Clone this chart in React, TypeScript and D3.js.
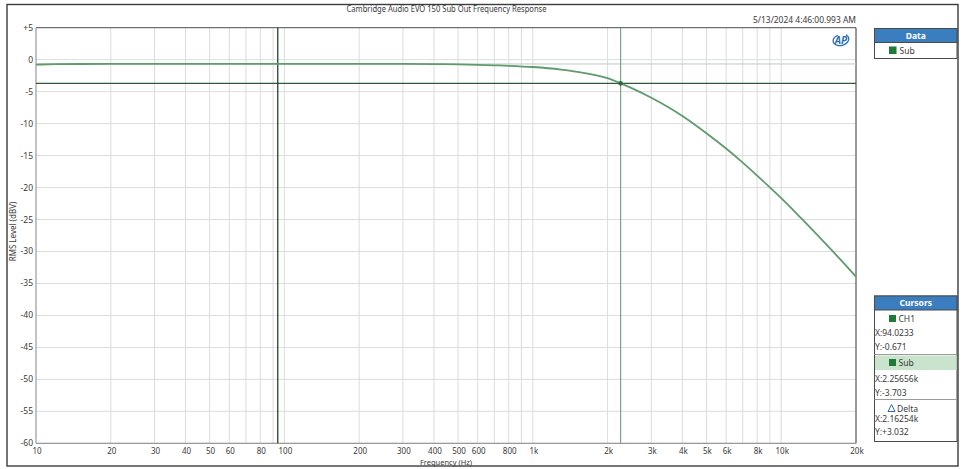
import React from "react";
import * as d3 from "d3";

// ---- data ----
const freqHz = [10, 12, 15, 20, 50, 100, 200, 300, 400, 500, 600, 700, 800, 1000, 1300, 1600, 2000, 2256.56, 2500, 3000, 3500, 4000, 5000, 6000, 7000, 8000, 9000, 10000, 12000, 14000, 16000, 18000, 20000];
const subDb = [-0.78, -0.71, -0.68, -0.67, -0.67, -0.671, -0.665, -0.665, -0.69, -0.74, -0.8, -0.88, -0.96, -1.15, -1.55, -2.05, -2.9, -3.703, -4.45, -5.95, -7.4, -8.8, -11.5, -13.9, -16.11, -18.14, -19.98, -21.67, -24.76, -27.44, -29.82, -31.97, -33.94];

const xTickValues = [10, 20, 30, 40, 50, 60, 80, 100, 200, 300, 400, 500, 600, 800, 1000, 2000, 3000, 4000, 5000, 6000, 8000, 10000, 20000];
const xTickLabels = ["10", "20", "30", "40", "50", "60", "80", "100", "200", "300", "400", "500", "600", "800", "1k", "2k", "3k", "4k", "5k", "6k", "8k", "10k", "20k"];
const xGridValues = [20, 30, 40, 50, 60, 70, 80, 90, 100, 200, 300, 400, 500, 600, 700, 800, 900, 1000, 2000, 3000, 4000, 5000, 6000, 7000, 8000, 9000, 10000];
const yTickValues = [5, 0, -5, -10, -15, -20, -25, -30, -35, -40, -45, -50, -55, -60];
const yTickLabels = ["+5", "0", "-5", "-10", "-15", "-20", "-25", "-30", "-35", "-40", "-45", "-50", "-55", "-60"];

const cursor1 = { x: 94.0233, y: -0.671 };
const cursor2 = { x: 2256.56, y: -3.703 };
const cursorTexts = {
  ch1: ["X:94.0233", "Y:-0.671"],
  sub: ["X:2.25656k", "Y:-3.703"],
  delta: ["X:2.16254k", "Y:+3.032"],
};

const title = "Cambridge Audio EVO 150 Sub Out Frequency Response";
const timestamp = "5/13/2024 4:46:00.993 AM";

export default function App() {
  const W = 964, H = 469;
  const L = 36, R = 856, T = 27.7, B = 443.3;
  const x = d3.scaleLog().domain([10, 20000]).range([L, R]);
  const y = d3.scaleLinear().domain([5, -60]).range([T, B]);
  const line = d3
    .line<number>()
    .x((_, i) => x(freqHz[i]))
    .y((d) => y(d))
    .curve(d3.curveMonotoneX);
  const font = "'Noto Sans', 'DejaVu Sans', sans-serif";
  const txt = "#3a3a3a";
  const blue = "#3b7ec0";
  const px = 874.5, pw = 82.5;

  return (
    <svg width={W} height={H} style={{ position: "absolute", left: 0, top: 0, background: "#fff" }} fontFamily={font}>
      <rect x={0} y={0} width={W} height={H} fill="#fff" />
      <rect x={7} y={4.5} width={951} height={461.5} fill="none" stroke="#3c3c3c" strokeWidth={1.4} />

      <text x={446.5} y={11.5} fontSize={9} fill={txt} textAnchor="middle" textLength={200} lengthAdjust="spacingAndGlyphs">{title}</text>
      <text x={856} y={22.5} fontSize={9} fill={txt} textAnchor="end" textLength={103} lengthAdjust="spacingAndGlyphs">{timestamp}</text>

      {/* grid */}
      {xGridValues.map((v) => (
        <line key={"gx" + v} x1={x(v)} x2={x(v)} y1={T} y2={B} stroke="#dcdcdc" strokeWidth={1} />
      ))}
      {yTickValues.map((v) => (
        <line key={"gy" + v} x1={L} x2={R} y1={y(v)} y2={y(v)} stroke="#dcdcdc" strokeWidth={1} />
      ))}

      {/* plot frame */}
      <line x1={L} x2={R} y1={T} y2={T} stroke="#555" strokeWidth={1} />
      <line x1={R} x2={R} y1={T} y2={B} stroke="#555" strokeWidth={1.2} />
      <line x1={L} x2={L} y1={T} y2={B} stroke="#9a9a9a" strokeWidth={1.2} />
      <line x1={L} x2={R} y1={B} y2={B} stroke="#9a9a9a" strokeWidth={1.2} />

      {/* cursors */}
      <line x1={L} x2={R} y1={y(cursor1.y)} y2={y(cursor1.y)} stroke="#b8cdbc" strokeWidth={1} />
      <line x1={L} x2={R} y1={y(cursor2.y)} y2={y(cursor2.y)} stroke="#2f5a3a" strokeWidth={1.1} />
      <line x1={x(cursor1.x)} x2={x(cursor1.x)} y1={T} y2={B} stroke="#1f4529" strokeWidth={1.3} />
      <line x1={x(cursor2.x)} x2={x(cursor2.x)} y1={T} y2={B} stroke="#6a9f79" strokeWidth={1.1} />

      {/* data */}
      <path d={line(subDb) || ""} fill="none" stroke="#5e9b6d" strokeWidth={1.8} />
      <circle cx={x(cursor2.x)} cy={y(cursor2.y)} r={2.4} fill="#2e6b3f" />

      {/* AP logo */}
      <g transform="translate(841,40)">
        <ellipse cx={0} cy={0} rx={8} ry={5.5} fill="none" stroke="#2b6cb3" strokeWidth={1.3} transform="rotate(-15)" strokeDasharray="30 8" />
        <text x={0} y={3.5} fontSize={10} fontWeight="bold" fontStyle="italic" fill="#2b6cb3" textAnchor="middle">AP</text>
      </g>

      {/* y ticks */}
      {yTickValues.map((v, i) => (
        <text key={"yl" + v} x={33} y={y(v) + 3} fontSize={8.5} fill={txt} textAnchor="end">{yTickLabels[i]}</text>
      ))}
      {/* x ticks */}
      {xTickValues.map((v, i) => (
        <text key={"xl" + v} x={x(v) + 1} y={454} fontSize={8} fill={txt} textAnchor="middle">{xTickLabels[i]}</text>
      ))}
      <text x={446} y={464.5} fontSize={7.5} fill={txt} textAnchor="middle">Frequency (Hz)</text>
      <text transform={`translate(16,${(T + B) / 2 - 4}) rotate(-90)`} fontSize={8} fill={txt} textAnchor="middle">RMS Level (dBV)</text>

      {/* Data panel */}
      <rect x={px} y={28.5} width={pw} height={30} fill="#fff" stroke="#4a4a4a" strokeWidth={1} />
      <rect x={px} y={28.5} width={pw} height={14} fill={blue} stroke="#4a4a4a" strokeWidth={1} />
      <text x={px + pw / 2} y={38.5} fontSize={8.5} fontWeight="bold" fill="#fff" textAnchor="middle">Data</text>
      <rect x={889} y={46.5} width={7.5} height={7.5} fill="#1f7a37" />
      <text x={899.5} y={54} fontSize={8.5} fill={txt}>Sub</text>

      {/* Cursors panel */}
      <rect x={px} y={296} width={pw} height={145.5} fill="#fff" stroke="#4a4a4a" strokeWidth={1} />
      <rect x={px + 0.5} y={355.5} width={pw - 1} height={14.5} fill="#c9e3cc" />
      <rect x={px} y={296} width={pw} height={14} fill={blue} stroke="#4a4a4a" strokeWidth={1} />
      <text x={px + pw / 2} y={306} fontSize={8.5} fontWeight="bold" fill="#fff" textAnchor="middle">Cursors</text>
      <line x1={px} x2={px + pw} y1={354.5} y2={354.5} stroke="#9a9a9a" strokeWidth={1} />
      <line x1={px} x2={px + pw} y1={399.5} y2={399.5} stroke="#9a9a9a" strokeWidth={1} />

      <rect x={889} y={315} width={7} height={7} fill="#1f7a37" />
      <text x={898.5} y={322} fontSize={8.5} fill={txt}>CH1</text>
      <text x={875} y={336} fontSize={8.5} fill={txt}>{cursorTexts.ch1[0]}</text>
      <text x={875} y={350} fontSize={8.5} fill={txt}>{cursorTexts.ch1[1]}</text>

      <rect x={889} y={359} width={7} height={7} fill="#1f7a37" />
      <text x={898.5} y={366} fontSize={8.5} fill={txt}>Sub</text>
      <text x={875} y={382} fontSize={8.5} fill={txt}>{cursorTexts.sub[0]}</text>
      <text x={875} y={396} fontSize={8.5} fill={txt}>{cursorTexts.sub[1]}</text>

      <path d="M891.5,404.5 L888,411.5 L895,411.5 Z" fill="none" stroke="#2b6cb3" strokeWidth={1} />
      <text x={897} y={412} fontSize={8.5} fill={txt}>Delta</text>
      <text x={875} y={422} fontSize={8.5} fill={txt}>{cursorTexts.delta[0]}</text>
      <text x={875} y={435} fontSize={8.5} fill={txt}>{cursorTexts.delta[1]}</text>
    </svg>
  );
}
